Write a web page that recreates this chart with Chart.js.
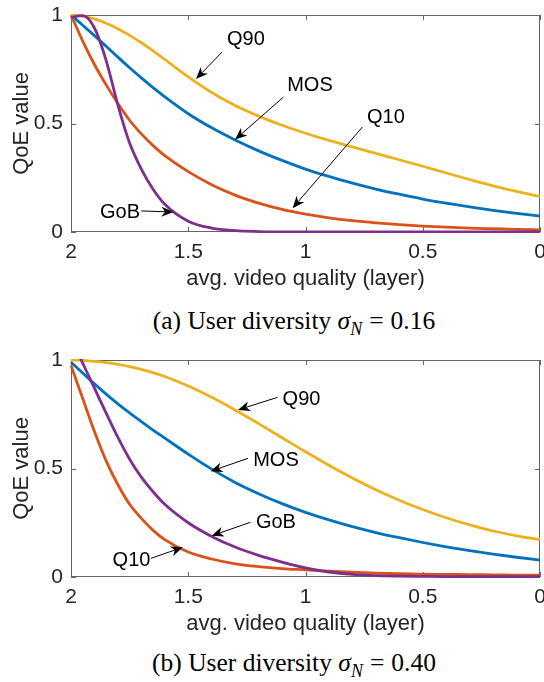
<!DOCTYPE html>
<html>
<head>
<meta charset="utf-8">
<script src="https://cdn.jsdelivr.net/npm/chart.js@4.4.1/dist/chart.umd.min.js"></script>
<style>
body { margin: 0; background: #fff; width: 544px; height: 682px; overflow: hidden; position: relative; }
.panel { position: absolute; left: 0; width: 544px; height: 345px; }
.panel canvas { position: absolute; left: 0; top: 0; }
.caption { position: absolute; left: 294px; transform: translateX(-50%); white-space: nowrap;
  font-family: "Liberation Serif", "Times New Roman", serif; font-size: 25.5px; line-height: 32px; color: #000; }
.caption sub { font-size: 18px; line-height: 0; vertical-align: -6px; }
.caption .eq { margin: 0 7px; }
</style>
</head>
<body>
<div class="panel" style="top:0px">
  <canvas id="chartA" width="544" height="290"></canvas>
  <div class="caption" style="top:305px">(a) User diversity <i>σ</i><sub><i>N</i></sub><span class="eq">=</span>0.16</div>
</div>
<div class="panel" style="top:345px">
  <canvas id="chartB" width="544" height="290"></canvas>
  <div class="caption" style="top:302px">(b) User diversity <i>σ</i><sub><i>N</i></sub><span class="eq">=</span>0.40</div>
</div>
<script>
// x values (avg. video quality, layer)
const quality = [2, 1.95, 1.9, 1.85, 1.8, 1.75, 1.7, 1.65, 1.6, 1.5, 1.4, 1.3, 1.2, 1.1, 1.0, 0.9, 0.8, 0.7, 0.6, 0.5, 0.4, 0.3, 0.2, 0.1, 0];

// (a) sigma_N = 0.16
const mosA = [1, 0.953, 0.905, 0.856, 0.806, 0.757, 0.71, 0.665, 0.623, 0.545, 0.48, 0.424, 0.374, 0.33, 0.29, 0.256, 0.225, 0.198, 0.174, 0.152, 0.133, 0.116, 0.1, 0.086, 0.073];
const q10A = [1, 0.88, 0.772, 0.678, 0.592, 0.515, 0.452, 0.398, 0.352, 0.278, 0.218, 0.17, 0.133, 0.104, 0.082, 0.065, 0.052, 0.042, 0.034, 0.027, 0.022, 0.018, 0.015, 0.012, 0.01];
const q90A = [1, 0.995, 0.982, 0.962, 0.937, 0.906, 0.872, 0.835, 0.795, 0.715, 0.643, 0.583, 0.534, 0.492, 0.455, 0.422, 0.392, 0.362, 0.333, 0.303, 0.272, 0.242, 0.213, 0.187, 0.164];
const gobA = [0.99, 0.997, 0.94, 0.79, 0.585, 0.41, 0.29, 0.197, 0.128, 0.05, 0.018, 0.006, 0.002, 0.0005, 0, 0, 0, 0, 0, 0, 0, 0, 0, 0, 0];

// (b) sigma_N = 0.40
const mosB = [0.99, 0.94, 0.89, 0.843, 0.798, 0.756, 0.716, 0.677, 0.64, 0.566, 0.497, 0.436, 0.384, 0.338, 0.298, 0.263, 0.232, 0.205, 0.181, 0.159, 0.139, 0.121, 0.105, 0.091, 0.078];
const q10B = [0.975, 0.823, 0.67, 0.535, 0.425, 0.335, 0.27, 0.215, 0.172, 0.115, 0.083, 0.061, 0.048, 0.039, 0.033, 0.027, 0.022, 0.018, 0.015, 0.013, 0.012, 0.011, 0.01, 0.009, 0.009];
const q90B = [1, 0.998, 0.994, 0.988, 0.98, 0.97, 0.957, 0.942, 0.924, 0.88, 0.828, 0.77, 0.707, 0.642, 0.577, 0.515, 0.456, 0.402, 0.354, 0.311, 0.273, 0.24, 0.212, 0.19, 0.172];
const gobB = [1.1, 0.985, 0.87, 0.755, 0.643, 0.543, 0.46, 0.393, 0.335, 0.25, 0.187, 0.138, 0.1, 0.069, 0.042, 0.023, 0.012, 0.006, 0.004, 0.003, 0.002, 0.002, 0.002, 0.002, 0.002];

const xTicks = [2, 1.5, 1, 0.5, 0];
const yTicks = [0, 0.5, 1];

// arrows + labels, in data units
const notesA = [
  { text: 'Q90', at: [1.254, 0.885], from: [1.356, 0.829], to: [1.467, 0.705] },
  { text: 'MOS', at: [0.981, 0.673], from: [1.094, 0.622], to: [1.30, 0.426] },
  { text: 'Q10', at: [0.657, 0.53], from: [0.757, 0.484], to: [1.055, 0.11] },
  { text: 'GoB', at: [1.791, 0.092], from: [1.70, 0.097], to: [1.563, 0.092] }
];
const notesB = [
  { text: 'Q90', at: [1.017, 0.816], from: [1.119, 0.828], to: [1.288, 0.77] },
  { text: 'MOS', at: [1.126, 0.535], from: [1.245, 0.547], to: [1.405, 0.487] },
  { text: 'GoB', at: [1.126, 0.249], from: [1.235, 0.252], to: [1.40, 0.19] },
  { text: 'Q10', at: [1.742, 0.074], from: [1.659, 0.086], to: [1.523, 0.137] }
];

Chart.defaults.font.family = '"Liberation Sans", Arial, sans-serif';
Chart.defaults.font.size = 21;
Chart.defaults.color = '#262626';

// box around the axes with inward ticks, then arrows with labels
const axesBox = {
  id: 'axesBox',
  beforeDatasetsDraw(chart) {
    const { ctx, chartArea: a, scales } = chart;
    ctx.save();
    ctx.strokeStyle = '#666';
    ctx.lineWidth = 1;
    ctx.strokeRect(a.left + 0.5, a.top + 0.5, a.right - a.left - 1, a.bottom - a.top - 1);
    ctx.beginPath();
    xTicks.forEach(v => {
      const px = Math.round(scales.x.getPixelForValue(v)) + 0.5;
      ctx.moveTo(px, a.top); ctx.lineTo(px, a.top + 5);
      ctx.moveTo(px, a.bottom); ctx.lineTo(px, a.bottom - 5);
    });
    yTicks.forEach(v => {
      const py = Math.round(scales.y.getPixelForValue(v)) + 0.5;
      ctx.moveTo(a.left, py); ctx.lineTo(a.left + 5, py);
      ctx.moveTo(a.right, py); ctx.lineTo(a.right - 5, py);
    });
    ctx.stroke();
    ctx.restore();
  },
  afterDatasetsDraw(chart, args, opts) {
    const { ctx, scales } = chart;
    const px = p => [scales.x.getPixelForValue(p[0]), scales.y.getPixelForValue(p[1])];
    ctx.save();
    (opts.notes || []).forEach(n => {
      const [tx, ty] = px(n.from);
      const [hx, hy] = px(n.to);
      const d = Math.hypot(hx - tx, hy - ty);
      const ux = (hx - tx) / d, uy = (hy - ty) / d;
      const L = 12, W = 5, back = 3.5;
      const bx = hx - ux * L, by = hy - uy * L;
      const nx = hx - ux * (L - back), ny = hy - uy * (L - back);
      ctx.strokeStyle = '#000';
      ctx.lineWidth = 1;
      ctx.beginPath();
      ctx.moveTo(tx, ty);
      ctx.lineTo(nx, ny);
      ctx.stroke();
      ctx.fillStyle = '#000';
      ctx.beginPath();
      ctx.moveTo(hx, hy);
      ctx.lineTo(bx - uy * W, by + ux * W);
      ctx.lineTo(nx, ny);
      ctx.lineTo(bx + uy * W, by - ux * W);
      ctx.closePath();
      ctx.fill();
      const [lx, ly] = px(n.at);
      ctx.font = '20px "Liberation Sans", Arial, sans-serif';
      ctx.textAlign = 'center';
      ctx.textBaseline = 'middle';
      ctx.fillText(n.text, lx, ly);
    });
    ctx.restore();
  }
};

function drawPanel(canvasId, mos, q10, q90, gob, notes) {
  const series = [
    { label: 'MOS', values: mos, color: '#0072BD', order: 3 },
    { label: 'Q10', values: q10, color: '#D95319', order: 2 },
    { label: 'Q90', values: q90, color: '#EDB120', order: 1 },
    { label: 'GoB', values: gob, color: '#7E2F8E', order: 0 }
  ];
  new Chart(document.getElementById(canvasId), {
    type: 'line',
    data: {
      datasets: series.map(s => ({
        label: s.label,
        data: quality.map((q, i) => ({ x: q, y: s.values[i] })),
        borderColor: s.color,
        borderWidth: 2.8,
        pointRadius: 0,
        cubicInterpolationMode: 'monotone',
        fill: false,
        order: s.order,
        clip: 1
      }))
    },
    options: {
      responsive: false,
      animation: false,
      devicePixelRatio: 1,
      layout: { padding: { top: 15, right: 4, left: 0, bottom: 0 } },
      plugins: {
        legend: { display: false },
        tooltip: { enabled: false },
        axesBox: { notes: notes }
      },
      scales: {
        x: {
          type: 'linear',
          reverse: true,
          min: 0,
          max: 2,
          grid: { display: false, drawTicks: false },
          border: { display: false },
          afterBuildTicks: s => { s.ticks = xTicks.map(v => ({ value: v })); },
          ticks: { padding: 8, maxRotation: 0, callback: v => String(v) },
          title: { display: true, text: 'avg. video quality (layer)', font: { size: 22 }, padding: { top: 0, bottom: -2 } },
          afterFit: s => { s.height = 58; s.paddingLeft = 0; s.paddingRight = 0; }
        },
        y: {
          min: 0,
          max: 1,
          grid: { display: false, drawTicks: false },
          border: { display: false },
          afterBuildTicks: s => { s.ticks = yTicks.map(v => ({ value: v })); },
          ticks: { padding: 8, callback: v => String(v) },
          title: { display: true, text: 'QoE value', font: { size: 22 }, padding: { top: 9, bottom: 0 } },
          afterFit: s => { s.width = 71; s.paddingTop = 0; s.paddingBottom = 0; }
        }
      }
    },
    plugins: [axesBox]
  });
}

drawPanel('chartA', mosA, q10A, q90A, gobA, notesA);
drawPanel('chartB', mosB, q10B, q90B, gobB, notesB);
</script>
</body>
</html>
